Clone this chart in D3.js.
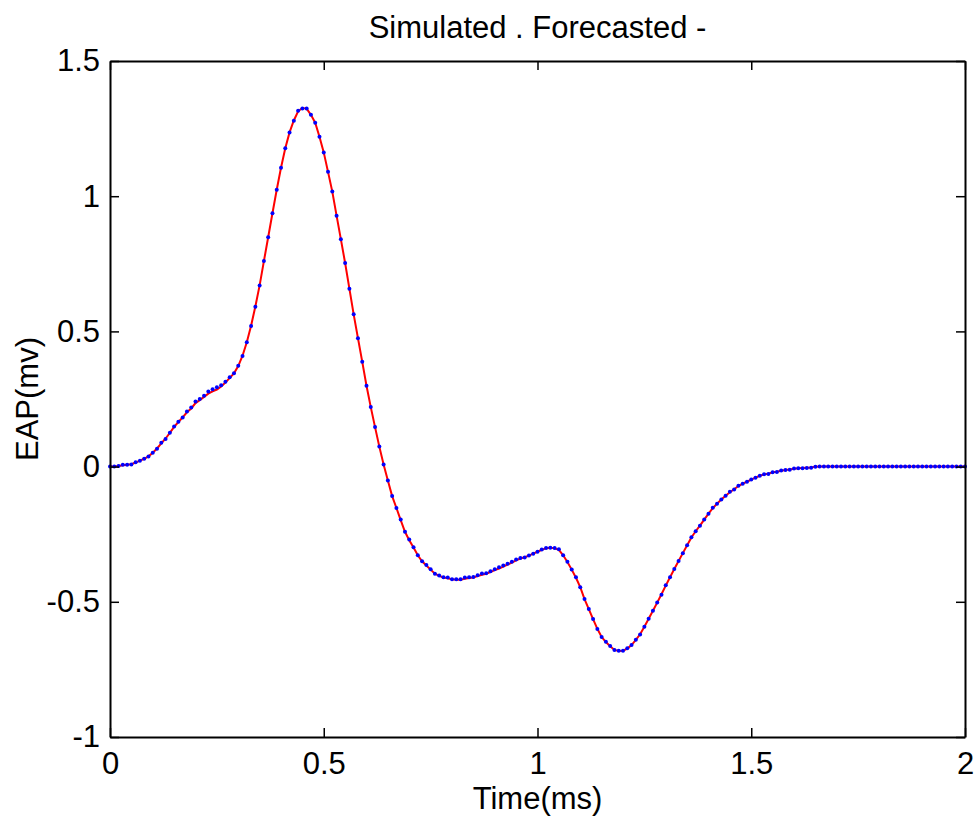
<!DOCTYPE html>
<html>
<head>
<meta charset="utf-8">
<script src="https://cdn.jsdelivr.net/npm/d3@7"></script>
<style>
  body { margin: 0; background: #fff; }
  svg text { font-family: "Liberation Sans", Arial, sans-serif; fill: #000; }
</style>
</head>
<body>
<svg id="chart"></svg>
<script>
// time step 0.01 ms, 0..2 ms
var tStart = 0, tStep = 0.01

// Simulated EAP (mv) - dots
var simulated = [
  0, 0, 0.002, 0.007, 0.007, 0.008, 0.016, 0.022, 0.029, 0.037,
  0.051, 0.066, 0.088, 0.102, 0.125, 0.148, 0.166, 0.182, 0.204, 0.219,
  0.241, 0.250, 0.262, 0.278, 0.286, 0.293, 0.301, 0.314, 0.330, 0.345,
  0.373, 0.409, 0.460, 0.520, 0.591, 0.670, 0.760, 0.848, 0.937, 1.024,
  1.105, 1.177, 1.236, 1.279, 1.316, 1.324, 1.324, 1.301, 1.272, 1.220,
  1.162, 1.090, 1.017, 0.928, 0.841, 0.753, 0.658, 0.563, 0.475, 0.388,
  0.299, 0.220, 0.146, 0.074, 0.008, -0.051, -0.109, -0.153, -0.196, -0.241,
  -0.270, -0.298, -0.328, -0.350, -0.364, -0.380, -0.396, -0.403, -0.409, -0.410,
  -0.417, -0.417, -0.417, -0.410, -0.409, -0.408, -0.402, -0.395, -0.394, -0.387,
  -0.380, -0.372, -0.366, -0.359, -0.352, -0.344, -0.338, -0.336, -0.329, -0.322,
  -0.315, -0.307, -0.301, -0.300, -0.301, -0.306, -0.328, -0.352, -0.381, -0.409,
  -0.446, -0.490, -0.527, -0.564, -0.601, -0.630, -0.648, -0.663, -0.678, -0.681,
  -0.681, -0.672, -0.660, -0.640, -0.621, -0.592, -0.563, -0.533, -0.503, -0.474,
  -0.439, -0.409, -0.379, -0.349, -0.320, -0.291, -0.261, -0.239, -0.219, -0.196,
  -0.174, -0.152, -0.137, -0.122, -0.108, -0.093, -0.085, -0.071, -0.063, -0.056,
  -0.048, -0.041, -0.034, -0.028, -0.027, -0.021, -0.020, -0.014, -0.013, -0.012,
  -0.007, -0.006, -0.006, -0.005, -0.004, -0.001, 0, 0, 0, 0,
  0, 0, 0, 0, 0, 0, 0, 0, 0, 0,
  0, 0, 0, 0, 0, 0, 0, 0, 0, 0,
  0, 0, 0, 0, 0, 0, 0, 0, 0, 0,
  0
]

// Forecasted EAP (mv) - red line
var forecasted = [
  0, 0, 0.002, 0.005, 0.007, 0.009, 0.015, 0.022, 0.029, 0.038,
  0.051, 0.067, 0.086, 0.104, 0.125, 0.147, 0.165, 0.182, 0.201, 0.215,
  0.235, 0.246, 0.258, 0.270, 0.278, 0.285, 0.296, 0.311, 0.328, 0.345,
  0.372, 0.410, 0.460, 0.521, 0.592, 0.670, 0.760, 0.848, 0.937, 1.024,
  1.105, 1.177, 1.236, 1.280, 1.314, 1.326, 1.324, 1.301, 1.272, 1.220,
  1.162, 1.090, 1.017, 0.928, 0.841, 0.753, 0.658, 0.563, 0.475, 0.388,
  0.299, 0.220, 0.146, 0.074, 0.008, -0.051, -0.109, -0.153, -0.198, -0.241,
  -0.272, -0.299, -0.328, -0.350, -0.366, -0.381, -0.396, -0.404, -0.410, -0.413,
  -0.417, -0.418, -0.418, -0.415, -0.412, -0.410, -0.405, -0.400, -0.396, -0.390,
  -0.383, -0.377, -0.370, -0.362, -0.355, -0.347, -0.340, -0.335, -0.329, -0.322,
  -0.315, -0.308, -0.302, -0.300, -0.302, -0.308, -0.328, -0.353, -0.381, -0.411,
  -0.446, -0.490, -0.527, -0.564, -0.600, -0.630, -0.649, -0.664, -0.678, -0.682,
  -0.681, -0.673, -0.660, -0.641, -0.620, -0.592, -0.563, -0.533, -0.503, -0.472,
  -0.440, -0.409, -0.379, -0.349, -0.320, -0.291, -0.262, -0.239, -0.218, -0.196,
  -0.174, -0.154, -0.137, -0.122, -0.108, -0.095, -0.084, -0.072, -0.063, -0.056,
  -0.048, -0.041, -0.034, -0.029, -0.026, -0.021, -0.019, -0.015, -0.013, -0.011,
  -0.008, -0.006, -0.005, -0.004, -0.003, -0.001, 0, 0, 0, 0,
  0, 0, 0, 0, 0, 0, 0, 0, 0, 0,
  0, 0, 0, 0, 0, 0, 0, 0, 0, 0,
  0, 0, 0, 0, 0, 0, 0, 0, 0, 0,
  0
]

var xTicks = [0, 0.5, 1, 1.5, 2]
var yTicks = [-1, -0.5, 0, 0.5, 1, 1.5]
var titleText = "Simulated . Forecasted -"
var xLabel = "Time(ms)"
var yLabel = "EAP(mv)"

var width = 979, height = 816
var margin = ({top: 61, right: 14, bottom: 79, left: 110})
var fontSize = 31

var svg = d3.select("#chart")
  .attr("width", width)
  .attr("height", height)
  .attr("viewBox", [0, 0, width, height])

var x = d3.scaleLinear()
  .domain([0, 2])
  .range([margin.left, width - margin.right])

var y = d3.scaleLinear()
  .domain([-1, 1.5])
  .range([height - margin.bottom, margin.top])

var simData = simulated.map((v, i) => ({t: tStart + i * tStep, v: v}))
var foreData = forecasted.map((v, i) => ({t: tStart + i * tStep, v: v}))

var fmt = d => String(d)

// axes, ticks inside (matlab box style)
var xAxis = g => g
  .attr("transform", `translate(0,${height - margin.bottom})`)
  .call(d3.axisBottom(x).tickValues(xTicks).tickFormat(fmt).tickSizeInner(-9).tickSizeOuter(0).tickPadding(15))

var xAxisTop = g => g
  .attr("transform", `translate(0,${margin.top})`)
  .call(d3.axisTop(x).tickValues(xTicks).tickFormat("").tickSizeInner(-9).tickSizeOuter(0))

var yAxis = g => g
  .attr("transform", `translate(${margin.left},0)`)
  .call(d3.axisLeft(y).tickValues(yTicks).tickFormat(fmt).tickSizeInner(-9).tickSizeOuter(0).tickPadding(10))

var yAxisRight = g => g
  .attr("transform", `translate(${width - margin.right},0)`)
  .call(d3.axisRight(y).tickValues(yTicks).tickFormat("").tickSizeInner(-9).tickSizeOuter(0))

// forecasted line
svg.append("path")
  .datum(foreData)
  .attr("fill", "none")
  .attr("stroke", "#ff0000")
  .attr("stroke-width", 2)
  .attr("d", d3.line().x(d => x(d.t)).y(d => y(d.v)))

// simulated dots
svg.append("g")
  .attr("fill", "#0000ff")
  .selectAll("circle")
  .data(simData)
  .join("circle")
    .attr("cx", d => x(d.t))
    .attr("cy", d => y(d.v))
    .attr("r", 2)

;[xAxis, xAxisTop, yAxis, yAxisRight].forEach(a => {
  var g = svg.append("g").call(a)
  g.selectAll(".domain").attr("stroke", "#000").attr("stroke-width", 2)
  g.selectAll(".tick line").attr("stroke", "#000").attr("stroke-width", 1.5)
  g.selectAll(".tick text").attr("font-size", fontSize).attr("font-family", null).attr("fill", "#000")
  g.attr("font-family", null)
})

svg.append("text")
  .attr("x", (margin.left + width - margin.right) / 2)
  .attr("y", 38)
  .attr("text-anchor", "middle")
  .attr("font-size", fontSize)
  .text(titleText)

svg.append("text")
  .attr("x", (margin.left + width - margin.right) / 2)
  .attr("y", 809)
  .attr("text-anchor", "middle")
  .attr("font-size", fontSize)
  .text(xLabel)

svg.append("text")
  .attr("transform", `translate(38,${(margin.top + height - margin.bottom) / 2}) rotate(-90)`)
  .attr("text-anchor", "middle")
  .attr("font-size", fontSize)
  .text(yLabel)
</script>
</body>
</html>
